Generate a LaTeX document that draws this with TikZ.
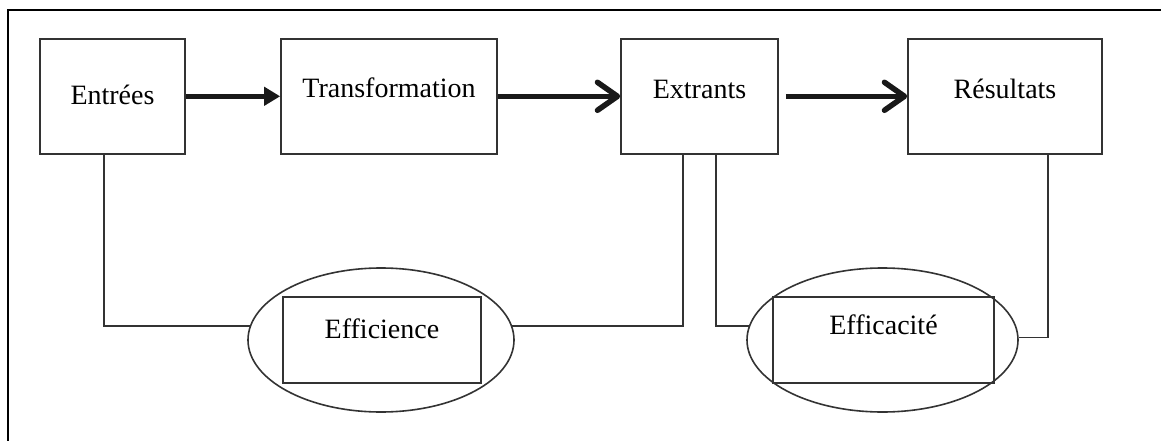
\documentclass[tikz,border=0pt]{standalone}
\usepackage{fontspec}
\setmainfont{Liberation Serif}
\usepackage{tikz}
\usetikzlibrary{arrows.meta}
\usetikzlibrary{shapes.geometric}

\begin{document}
\begin{tikzpicture}[x=1pt,y=-1pt,
  box/.style={draw=black!80,line width=1.6pt,rectangle,inner sep=0pt,minimum height=115pt,text height=60pt,text depth=55pt,anchor=north,font=\fontsize{28}{33}\selectfont},
  ring/.style={draw=black!80,line width=1.6pt,ellipse,inner sep=0pt,minimum height=144pt},
  inbox/.style={draw=black!80,line width=1.6pt,rectangle,inner sep=0pt,minimum height=86pt,font=\fontsize{28}{33}\selectfont},
  link/.style={draw=black!80,line width=1.6pt},
  flow/.style={line width=5.5pt,black!90}]
 \useasboundingbox (0,0) rectangle (1161,441);
 \draw[line width=2pt] (8,441) -- (8,10) -- (1161,10);

 \node[box,minimum width=145pt,text height=66pt,text depth=49pt] (entrees) at (112.5,38) {Entrées};
 \node[box,minimum width=216pt,text height=59pt,text depth=56pt] (transf) at (389,38) {Transformation};
 \node[box,minimum width=157pt] (extrants) at (699.5,38) {Extrants};
 \node[box,minimum width=194pt] (resultats) at (1005,38) {Résultats};

 \node[ring,minimum width=266pt] (effi) at (381,340) {};
 \node[inbox,minimum width=198pt,text height=41pt,text depth=45pt] (effitxt) at (382,340) {Efficience};
 \node[ring,minimum width=271pt] (effa) at (882.5,340) {};
 \node[inbox,minimum width=221pt,text height=37pt,text depth=49pt] (effatxt) at (883.5,340) {Efficacité};

 \draw[flow,-{Triangle[length=16pt,width=18pt]}] (entrees.east) -- (transf.west);
 \draw[flow,-{Straight Barb[length=20pt,width=28pt,round]}] (transf.east) -- (extrants.west);
 \draw[flow,-{Straight Barb[length=20pt,width=28pt,round]}] ([xshift=7pt]extrants.east) -- (resultats.west);

 \draw[link] ([xshift=-8.5pt]entrees.south) |- (effi.174);
 \draw[link] (effi.6) -| ([xshift=-16.5pt]extrants.south);
 \draw[link] ([xshift=16.5pt]extrants.south) |- (effa.174);
 \draw[link] (effa.1) -| ([xshift=43pt]resultats.south);
\end{tikzpicture}
\end{document}
